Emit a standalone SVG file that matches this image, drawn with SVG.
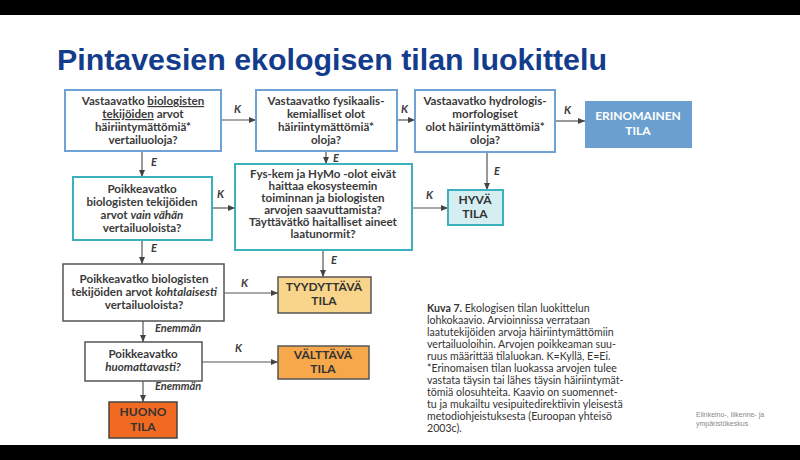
<svg xmlns="http://www.w3.org/2000/svg" width="800" height="460" viewBox="0 0 800 460">
<defs>
<marker id="ah" markerWidth="8" markerHeight="8" refX="7" refY="4" orient="auto" markerUnits="userSpaceOnUse">
<path d="M0,1 L7,4 L0,7 Z" fill="#444"/>
</marker>
<style>
.bq{fill:#fff;stroke:#6fa3d3;stroke-width:2}
.tq{fill:#fff;stroke:#3cb0bd;stroke-width:2}
.gq{fill:#fff;stroke:#555;stroke-width:1.5}
.t{font-family:Lato,"Open Sans",sans-serif;font-weight:bold;font-size:11.6px;fill:#3a3a3a;text-anchor:middle}
.r{font-family:Lato,"Open Sans",sans-serif;font-weight:bold;font-size:12px;text-anchor:middle}
.lb{font-family:Lato,"Open Sans",sans-serif;font-weight:bold;font-style:italic;font-size:11px;fill:#3a3a3a}
.c{stroke:#555;stroke-width:1.2;fill:none;marker-end:url(#ah)}
.cap{font-family:Lato,"Open Sans",sans-serif;font-size:10.6px;fill:#333}
</style>
</defs>
<rect x="0" y="0" width="800" height="460" fill="#fff"/>
<rect x="0" y="0" width="800" height="15" fill="#000"/>
<rect x="0" y="445" width="800" height="15" fill="#000"/>
<text x="57" y="70" font-family="'Liberation Sans',Arial,sans-serif" font-weight="bold" font-size="30" fill="#143c8c" textLength="550" lengthAdjust="spacingAndGlyphs">Pintavesien ekologisen tilan luokittelu</text>

<g id="connectors">
<line class="c" x1="221" y1="120" x2="256" y2="120"/>
<line class="c" x1="397" y1="120" x2="415" y2="120"/>
<line class="c" x1="555" y1="121" x2="585" y2="121"/>
<line class="c" x1="142" y1="151" x2="142" y2="177"/>
<line class="c" x1="326" y1="151" x2="326" y2="164"/>
<line class="c" x1="487" y1="152" x2="487" y2="190"/>
<line class="c" x1="212" y1="208" x2="235" y2="208"/>
<line class="c" x1="412" y1="208" x2="448" y2="208"/>
<line class="c" x1="142" y1="240" x2="142" y2="264"/>
<line class="c" x1="323" y1="250" x2="323" y2="277"/>
<line class="c" x1="224" y1="293" x2="278" y2="293"/>
<line class="c" x1="143" y1="321" x2="143" y2="342"/>
<line class="c" x1="202" y1="362" x2="278" y2="362"/>
<line class="c" x1="143" y1="381" x2="143" y2="402"/>
<text class="lb" x="234" y="113">K</text>
<text class="lb" x="401" y="113">K</text>
<text class="lb" x="564" y="114">K</text>
<text class="lb" x="151" y="166">E</text>
<text class="lb" x="333" y="162">E</text>
<text class="lb" x="494" y="175">E</text>
<text class="lb" x="217" y="198">K</text>
<text class="lb" x="426" y="199">K</text>
<text class="lb" x="151" y="252">E</text>
<text class="lb" x="331" y="264">E</text>
<text class="lb" x="241" y="287">K</text>
<text class="lb" x="235" y="352">K</text>
<text class="lb" x="155" y="332">Enemmän</text>
<text class="lb" x="155" y="390">Enemmän</text>
</g>

<g id="q1">
<rect class="bq" x="65" y="90" width="156" height="61"/>
<text class="t" x="143" y="105">Vastaavatko <tspan text-decoration="underline">biologisten</tspan></text>
<text class="t" x="143" y="118"><tspan text-decoration="underline">tekijöiden</tspan> arvot</text>
<text class="t" x="143" y="131">häiriintymättömiä*</text>
<text class="t" x="143" y="144">vertailuoloja?</text>
</g>
<g id="q2">
<rect class="bq" x="256" y="90" width="141" height="61"/>
<text class="t" x="326" y="105">Vastaavatko fysikaalis-</text>
<text class="t" x="326" y="118">kemialliset olot</text>
<text class="t" x="326" y="131">häiriintymättömiä*</text>
<text class="t" x="326" y="144">oloja?</text>
</g>
<g id="q3">
<rect class="bq" x="415" y="90" width="140" height="62"/>
<text class="t" x="485" y="105">Vastaavatko hydrologis-</text>
<text class="t" x="485" y="118">morfologiset</text>
<text class="t" x="485" y="131">olot häiriintymättömiä*</text>
<text class="t" x="485" y="144">oloja?</text>
</g>
<g id="erinomainen">
<rect x="585" y="101" width="107" height="47" fill="#6b9fcf"/>
<text class="r" x="638" y="120" fill="#fff">ERINOMAINEN</text>
<text class="r" x="638" y="135" fill="#fff">TILA</text>
</g>
<g id="q4">
<rect class="tq" x="73" y="177" width="139" height="63"/>
<text class="t" x="142" y="193">Poikkeavatko</text>
<text class="t" x="142" y="206">biologisten tekijöiden</text>
<text class="t" x="142" y="219">arvot <tspan font-style="italic">vain vähän</tspan></text>
<text class="t" x="142" y="232">vertailuoloista?</text>
</g>
<g id="q5">
<rect class="tq" x="235" y="164" width="177" height="86"/>
<text class="t" x="323" y="178">Fys-kem ja HyMo -olot eivät</text>
<text class="t" x="323" y="190">haittaa ekosysteemin</text>
<text class="t" x="323" y="202">toiminnan ja biologisten</text>
<text class="t" x="323" y="214">arvojen saavuttamista?</text>
<text class="t" x="323" y="226">Täyttävätkö haitalliset aineet</text>
<text class="t" x="323" y="238">laatunormit?</text>
</g>
<g id="hyva">
<rect x="448" y="190" width="55" height="35" fill="#d5eef2" stroke="#3cb0bd" stroke-width="2"/>
<text class="r" x="475" y="204" fill="#333">HYVÄ</text>
<text class="r" x="475" y="218" fill="#333">TILA</text>
</g>
<g id="q6">
<rect class="gq" x="63" y="264" width="161" height="57"/>
<text class="t" x="144" y="283">Poikkeavatko biologisten</text>
<text class="t" x="144" y="296">tekijöiden arvot <tspan font-style="italic">kohtalaisesti</tspan></text>
<text class="t" x="144" y="309">vertailuoloista?</text>
</g>
<g id="tyydyttava">
<rect x="278" y="277" width="93" height="36" fill="#f9d58b" stroke="#555" stroke-width="1.5"/>
<text class="r" x="324" y="291" fill="#333">TYYDYTTÄVÄ</text>
<text class="r" x="324" y="305" fill="#333">TILA</text>
</g>
<g id="q7">
<rect class="gq" x="85" y="342" width="117" height="39"/>
<text class="t" x="143" y="358">Poikkeavatko</text>
<text class="t" x="143" y="371" font-style="italic">huomattavasti?</text>
</g>
<g id="valttava">
<rect x="278" y="346" width="91" height="33" fill="#f6a84b" stroke="#555" stroke-width="1.5"/>
<text class="r" x="323" y="359" fill="#333">VÄLTTÄVÄ</text>
<text class="r" x="323" y="373" fill="#333">TILA</text>
</g>
<g id="huono">
<rect x="109" y="402" width="68" height="36" fill="#f26a22" stroke="#444" stroke-width="1.5"/>
<text class="r" x="143" y="416" fill="#333">HUONO</text>
<text class="r" x="143" y="431" fill="#333">TILA</text>
</g>

<g id="caption">
<text class="cap" x="427" y="312"><tspan font-weight="bold">Kuva 7.</tspan> Ekologisen tilan luokittelun</text>
<text class="cap" x="427" y="324">lohkokaavio. Arvioinnissa verrataan</text>
<text class="cap" x="427" y="336">laatutekijöiden arvoja häiriintymättömiin</text>
<text class="cap" x="427" y="348">vertailuoloihin. Arvojen poikkeaman suu-</text>
<text class="cap" x="427" y="360">ruus määrittää tilaluokan. K=Kyllä, E=Ei.</text>
<text class="cap" x="427" y="372">*Erinomaisen tilan luokassa arvojen tulee</text>
<text class="cap" x="427" y="384">vastata täysin tai lähes täysin häiriintymät-</text>
<text class="cap" x="427" y="396">tömiä olosuhteita. Kaavio on suomennet-</text>
<text class="cap" x="427" y="408">tu ja mukailtu vesipuitedirektiivin yleisestä</text>
<text class="cap" x="427" y="420">metodiohjeistuksesta (Euroopan yhteisö</text>
<text class="cap" x="427" y="432">2003c).</text>
</g>
<g id="footer">
<text x="696" y="417" font-family="'Liberation Sans',Arial,sans-serif" font-size="7" fill="#888">Elinkeino-, liikenne- ja</text>
<text x="696" y="426" font-family="'Liberation Sans',Arial,sans-serif" font-size="7" fill="#888">ympäristökeskus</text>
</g>
</svg>
